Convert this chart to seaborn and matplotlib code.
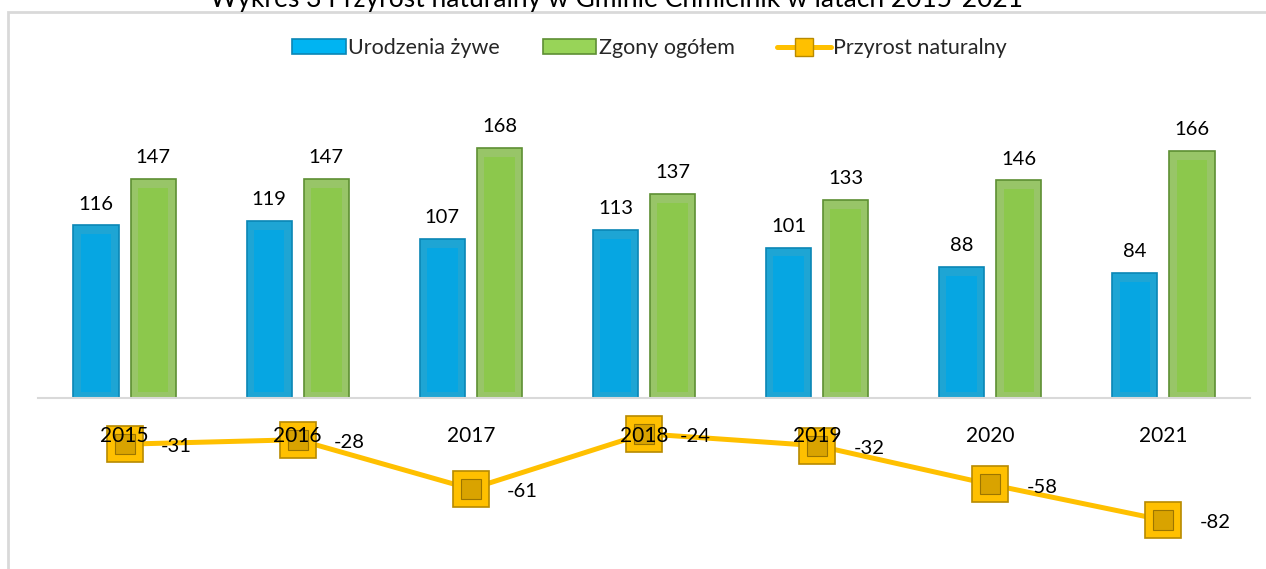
import numpy as np
import pandas as pd
import seaborn as sns
import matplotlib.pyplot as plt
from matplotlib.patches import Rectangle, Patch
from matplotlib.lines import Line2D

years = ['2015', '2016', '2017', '2018', '2019', '2020', '2021']
births = [116, 119, 107, 113, 101, 88, 84]
deaths = [147, 147, 168, 137, 133, 146, 166]
growth = [-31, -28, -61, -24, -32, -58, -82]

series_names = ['Urodzenia żywe', 'Zgony ogółem', 'Przyrost naturalny']
title = 'Wykres 3 Przyrost naturalny w Gminie Chmielnik w latach 2015-2021'

BLUE, BLUE_EDGE, BLUE_IN = '#00B4F2', '#0A86B5', '#06A6E2'
GREEN, GREEN_EDGE, GREEN_IN = '#98D458', '#5E8F33', '#8CC84C'
GOLD, GOLD_EDGE, GOLD_IN = '#FFC000', '#B88A00', '#D9A300'

sns.set_theme(style='white')
plt.rcParams['font.family'] = ['Lato', 'DejaVu Sans']

bars = pd.DataFrame({
    'year': years * 2,
    'value': births + deaths,
    'series': [series_names[0]] * len(years) + [series_names[1]] * len(years),
})

fig = plt.figure(figsize=(12.66, 5.69), dpi=100)
ax = fig.add_axes([38 / 1266, 1 - 547 / 569, 1212 / 1266, 447 / 569])

sns.barplot(data=bars, x='year', y='value', hue='series', order=years,
            hue_order=series_names[:2], palette=[BLUE, GREEN],
            width=0.66, gap=0.21, legend=False, ax=ax,
            edgecolor=None, linewidth=0)

# simple bevel look: edge colour + inner panel
for cont, edge, inner in zip(ax.containers, [BLUE_EDGE, GREEN_EDGE], [BLUE_IN, GREEN_IN]):
    for p in cont:
        p.set_edgecolor(edge)
        p.set_linewidth(1.2)
        x, w, h = p.get_x(), p.get_width(), p.get_height()
        ax.add_patch(Rectangle((x + w * 0.16, 4), w * 0.68, h - 10,
                               facecolor=inner, edgecolor='none', zorder=p.get_zorder() + 0.1))
    ax.bar_label(cont, padding=9, fontsize=14.5, color='#000000')

pos = np.arange(len(years))
sns.lineplot(x=pos, y=growth, color=GOLD, linewidth=3.6, marker='s', markersize=26,
             markerfacecolor=GOLD, markeredgecolor=GOLD_EDGE, markeredgewidth=1.2,
             ax=ax, zorder=3)
sns.lineplot(x=pos, y=growth, color=GOLD_IN, linestyle='', marker='s', markersize=15,
             markerfacecolor=GOLD_IN, markeredgecolor='#9C7500', markeredgewidth=0.8,
             ax=ax, zorder=3.1)
for xi, v in zip(pos, growth):
    ax.annotate(str(v), (xi, v), xytext=(26, -2), textcoords='offset points',
                ha='left', va='center', fontsize=14.5, color='#000000')

ax.set_ylim(-100, 200)
ax.set_xlim(-0.5, len(years) - 0.5)
ax.set_xlabel('')
ax.set_ylabel('')
ax.set_yticks([])
for s in ['top', 'left', 'right']:
    ax.spines[s].set_visible(False)
ax.spines['bottom'].set_position(('data', 0))
ax.spines['bottom'].set_color('#D9D9D9')
ax.spines['bottom'].set_linewidth(1.5)
ax.tick_params(axis='x', length=0, pad=20, labelsize=15, labelcolor='#000000')
ax.xaxis.set_zorder(5)
ax.patch.set_alpha(0)

# legend
handles = [
    Patch(facecolor=BLUE, edgecolor=BLUE_EDGE, linewidth=1.2),
    Patch(facecolor=GREEN, edgecolor=GREEN_EDGE, linewidth=1.2),
    Line2D([0], [0], color=GOLD, linewidth=3.6, marker='s', markersize=13,
           markerfacecolor=GOLD, markeredgecolor=GOLD_EDGE),
]
fig.legend(handles, series_names, loc='center', bbox_to_anchor=(0.513, 1 - 48 / 569),
           ncol=3, frameon=False, fontsize=15.5, handlelength=2.5, handleheight=0.65,
           handletextpad=0.1, columnspacing=2.0)

# chart frame and cut-off title
fig.add_artist(Rectangle((8 / 1266, -0.05), 1.1, 1.05 - 12 / 569, transform=fig.transFigure,
                         facecolor='none', edgecolor='#D9D9D9', linewidth=2))
fig.text(616 / 1266, 1 - 7 / 569, title, ha='center', va='baseline', fontsize=19, color='#000000')

fig.savefig('out.png', dpi=100)
